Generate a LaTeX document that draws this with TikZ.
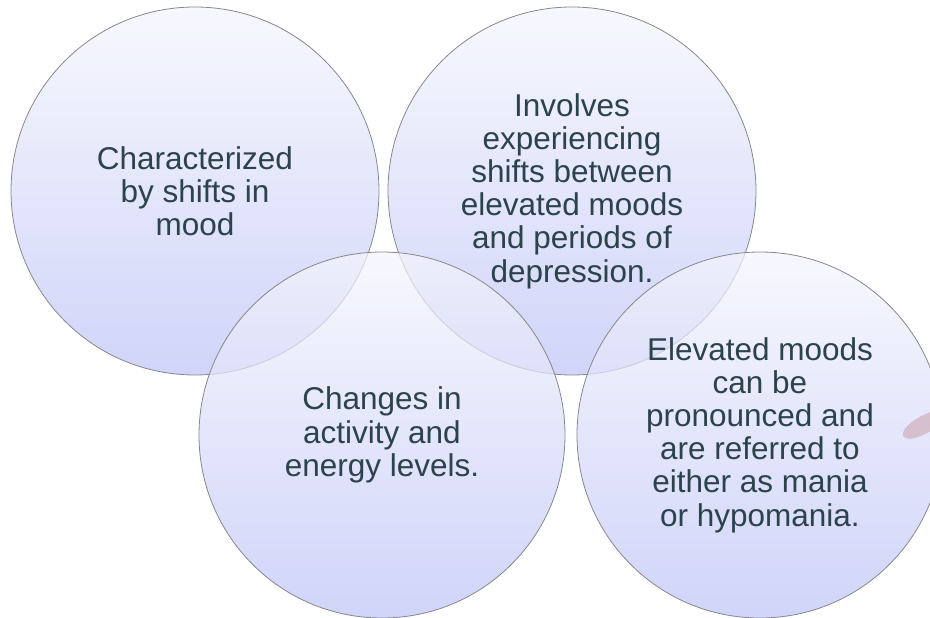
\documentclass[tikz,border=0pt]{standalone}
\usepackage{fontspec}
\setmainfont{Liberation Sans}
\definecolor{txtslate}{RGB}{44,66,76}
\definecolor{rimgray}{RGB}{135,135,140}
\definecolor{topblue}{RGB}{244,245,253}
\definecolor{lowblue}{RGB}{190,196,246}
\definecolor{mauve}{RGB}{214,192,206}
\tikzset{
  bubble/.style={circle, draw=rimgray, line width=0.8, inner sep=0pt,
    minimum size=#1, top color=topblue, bottom color=lowblue,
    fill opacity=0.72, text opacity=1, text=txtslate, align=center,
    font=\fontsize{31.5}{33.2}\selectfont}
}
\begin{document}
\begin{tikzpicture}[x=1pt,y=-1pt]
		\useasboundingbox (0,0) rectangle (930,618);
		\clip (0,0) rectangle (930,618);
		\coordinate (M) at (195,191);
		\coordinate (S) at (572,191);
		\coordinate (E) at (382,435);
		\coordinate (H) at (760,435);
		\node[bubble=368] (mood) at (M) {Characterized\\by shifts in\\mood};
		\node[bubble=368] (shift) at (S) {Involves\\experiencing\\shifts between\\elevated moods\\and periods of\\depression.};
		\node[bubble=366] (energy) at (E) {Changes in\\activity and\\energy levels.};
		\node[bubble=366] (mania) at (H) {Elevated moods\\can be\\pronounced and\\are referred to\\either as mania\\or hypomania.};
		\fill[mauve] (931,412) .. controls (916,417) and (901,428) .. (903,436) .. controls (908,442) and (920,437) .. (931,431) -- cycle;
	\end{tikzpicture}
\end{document}
